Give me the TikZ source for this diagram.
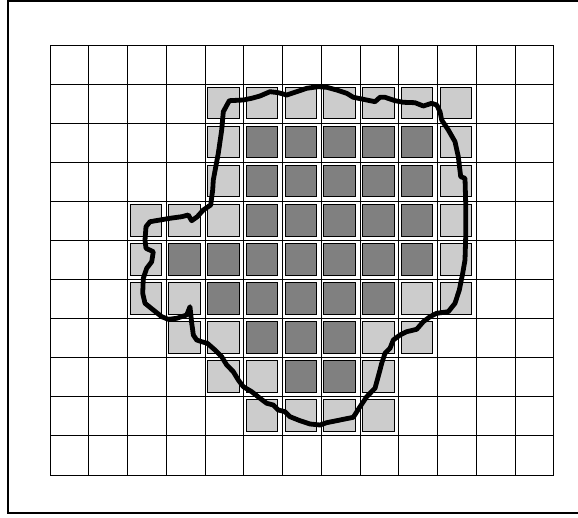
\documentclass[tikz,border=0pt]{standalone}
\definecolor{lightcell}{HTML}{CCCCCC}
\definecolor{darkcell}{HTML}{808080}
\tikzset{
  gridline/.style={draw=black, line width=0.9pt},
  lightsq/.style={fill=lightcell, draw=black, line width=0.9pt},
  darksq/.style={fill=darkcell, draw=black, line width=0.9pt},
  outline/.style={draw=black, line width=4.8pt, line join=round, line cap=round},
  frameline/.style={draw=black, line width=1.8pt}
}
\begin{document}
\begin{tikzpicture}[x=1pt,y=-1pt]
\useasboundingbox (0,0) rectangle (578,518);
\clip (0,0) rectangle (578,518);
% frame
\draw[frameline] (600,1) -- (8,1) -- (8,513) -- (600,513);
% grid
\foreach \i in {0,...,13} {
  \draw[gridline] ({50+38.75*\i},45.4) -- ({50+38.75*\i},475);
}
\foreach \j in {0,...,11} {
  \draw[gridline] (50,{45.4+39.05*\j}) -- (553.75,{45.4+39.05*\j});
}
% light squares (col/row)
\foreach \c/\r in {4/1,5/1,6/1,7/1,8/1,9/1,10/1,
                   4/2,10/2, 4/3,10/3,
                   2/4,3/4,4/4,10/4,
                   2/5,10/5,
                   2/6,3/6,9/6,10/6,
                   3/7,4/7,8/7,9/7,
                   4/8,5/8,8/8,
                   5/9,6/9,7/9,8/9} {
  \path[lightsq] ({50+38.75*\c+2.6},{45.4+39.05*\r+2.6}) rectangle +(31.4,31.8);
}
% dark squares
\foreach \c/\r in {5/2,6/2,7/2,8/2,9/2,
                   5/3,6/3,7/3,8/3,9/3,
                   5/4,6/4,7/4,8/4,9/4,
                   3/5,4/5,5/5,6/5,7/5,8/5,9/5,
                   4/6,5/6,6/6,7/6,8/6,
                   5/7,6/7,7/7,
                   6/8,7/8} {
  \path[darksq] ({50+38.75*\c+2.6},{45.4+39.05*\r+2.6}) rectangle +(31.4,31.8);
}
% boundary curve
\draw[outline] (210.7,205) -- (212.7,190) -- (213.3,180) -- (218.3,153.3) -- (221.7,130) -- (223.3,111.7) -- (229.3,100.7) -- (243.3,100) -- (251.7,98.3) -- (260,96) -- (270,91.7) -- (278.3,92.7) -- (286.7,95) -- (296.7,91.7) -- (306.7,88.3) -- (318.3,86.7) -- (326.7,87.3) -- (336.7,90) -- (346.7,93.3) -- (353.3,97.3) -- (363.3,99.3) -- (370,100.7) -- (375,101.7) -- (380,97.3) -- (385,97.3) -- (395,100.7) -- (403.3,102.3) -- (415,102.7) -- (423.3,106) -- (431.7,103.3) -- (436.7,105) -- (440,111.7) -- (441.7,120) -- (448.3,130) -- (455,141.7) -- (458.3,156.7) -- (460.7,176.7) -- (465,178.3) -- (465.7,203.3) -- (465.7,236.7) -- (465,260) -- (462.7,273.3) -- (459.3,290) -- (455,303.3) -- (448.3,311.7) -- (436.7,313.3) -- (430,316.7) -- (423.3,321.7) -- (416.7,329.3) -- (406.7,331.7) -- (400,335) -- (393.3,340) -- (390,348.3) -- (385,353.3) -- (381.7,363.3) -- (380,370) -- (375,388.3) -- (366.7,396.7) -- (360,406.7) -- (353.3,417.3) -- (340,420) -- (326.7,422.7) -- (320,425) -- (310,424) -- (300,420.7) -- (290,416.7) -- (285,411.7) -- (278.3,410) -- (273.3,405) -- (266.7,403.3) -- (260,398.3) -- (251.7,391.7) -- (243.3,386.7) -- (238.3,380) -- (233.3,371.7) -- (226.7,365) -- (221.7,356.7) -- (215,350) -- (207.3,343.3) -- (201.7,341.7) -- (196.7,340) -- (193.3,335) -- (192.7,330) -- (191.7,323.3) -- (191,316.7) -- (190,306.7) -- (186.7,315) -- (176.7,318.3) -- (168.3,319.3) -- (161.7,316.7) -- (153.3,310) -- (145,303.3) -- (142.7,293.3) -- (143.3,278.3) -- (146.7,268.3) -- (151.7,261.7) -- (153.3,251.7) -- (146,248.3) -- (145,240) -- (146,226.7) -- (150,221.7) -- (160,220) -- (170,218.3) -- (181.7,216.7) -- (188.3,215) -- (191.7,220.7) -- (197.3,216.7) -- (203.3,210) -- cycle;
\end{tikzpicture}
\end{document}
